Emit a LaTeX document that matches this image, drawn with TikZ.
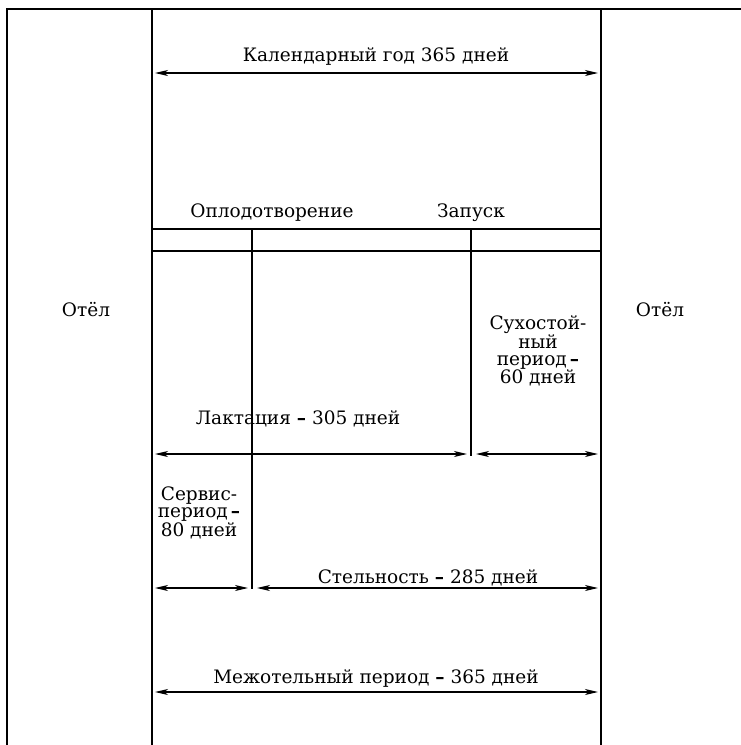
\documentclass[tikz,border=0pt]{standalone}
\usepackage{fontspec}
\setmainfont{DejaVu Serif}
\usetikzlibrary{arrows.meta,positioning}

\newcommand{\dsh}{{\bfseries\textendash}}

\tikzset{
  rule/.style={line width=1.4pt},
  heavy/.style={line width=2.6pt},
  dim/.style={{Stealth[length=13pt,width=6pt,inset=3.5pt]}-{Stealth[length=13pt,width=6pt,inset=3.5pt]}, line width=1.2pt},
  lbl/.style={inner sep=0pt, align=center},
}

\begin{document}
\begin{tikzpicture}[x=1pt,y=-1pt,font=\fontsize{18.5}{17}\selectfont]
  \useasboundingbox (0,0) rectangle (741,745);
  \draw[rule] (7,745) -- (7,9) -- (741,9);
  \foreach \x in {152,601} {
    \draw[rule] (\x,9) -- (\x,745);
  }
  \foreach \y in {229,251} {
    \draw[heavy] (152,\y) -- (601,\y);
  }
  \draw[heavy] (252,229) -- (252,589);
  \draw[line width=1.6pt] (471,229) -- (471,456);

  \node[lbl] (kal) at (376,57) {Календарный год 365 дней};
  \node[lbl] (opl) at (272,213) {Оплодотворение};
  \node[lbl] (zap) at (471,213) {Запуск};
  \node[lbl] (otelL) at (86,310) {Отёл};
  \node[lbl] (otelR) at (660,310) {Отёл};
  \node[lbl] (suh) at (538,351) {Сухостой-\\ный\\период\,\dsh\\60 дней};
  \node[lbl] (lakt) at (298,419) {Лактация \dsh\ 305 дней};
  \node[lbl] (serv) at (199,513) {Сервис-\\период\,\dsh\\80 дней};
  \node[lbl] (stel) at (428,578) {Стельность \dsh\ 285 дней};
  \node[lbl] (mezh) at (376,679) {Межотельный период \dsh\ 365 дней};

  \coordinate (kalA) at (155,73);
  \coordinate (kalB) at (598,73);
  \coordinate (laktA) at (155,454);
  \coordinate (laktB) at (467,454);
  \coordinate (suhA) at (476,454);
  \coordinate (suhB) at (598,454);
  \coordinate (servA) at (155,588);
  \coordinate (servB) at (248,588);
  \coordinate (stelA) at (257,588);
  \coordinate (stelB) at (598,588);
  \coordinate (mezhA) at (155,692);
  \coordinate (mezhB) at (598,692);

  \draw[dim] (kalA) -- (kalB);
  \draw[dim] (laktA) -- (laktB);
  \draw[dim] (suhA) -- (suhB);
  \draw[dim] (servA) -- (servB);
  \draw[dim] (stelA) -- (stelB);
  \draw[dim] (mezhA) -- (mezhB);
\end{tikzpicture}
\end{document}
